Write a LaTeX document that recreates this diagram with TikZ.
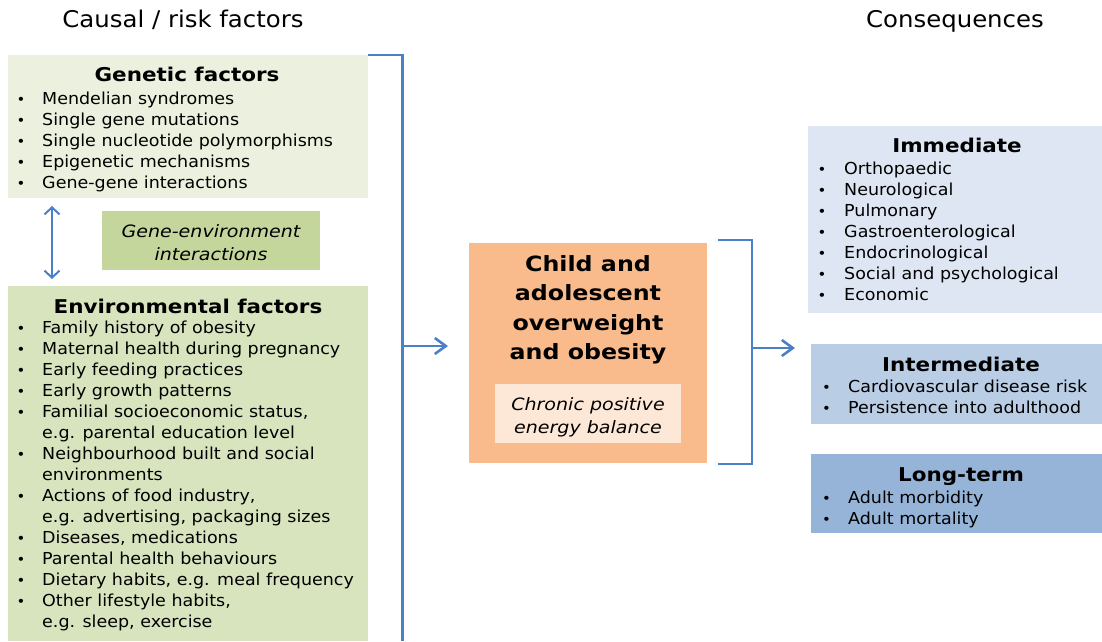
\documentclass[tikz,border=0pt]{standalone}
\usepackage{fontspec}
\setmainfont{DejaVu Sans}
\newfontfamily\frm{DejaVu Sans}[FakeStretch=1.06]
\newfontfamily\fbd{DejaVu Sans}[FakeStretch=1.13]
\newfontfamily\fitl{DejaVu Sans}[FakeStretch=1.12]
\usetikzlibrary{arrows.meta}
\definecolor{genbg}{RGB}{235,241,222}
\definecolor{envbg}{RGB}{216,228,190}
\definecolor{gebg}{RGB}{196,214,156}
\definecolor{orbg}{RGB}{249,187,139}
\definecolor{orin}{RGB}{253,232,216}
\definecolor{imbg}{RGB}{221,230,242}
\definecolor{intbg}{RGB}{185,205,229}
\definecolor{ltbg}{RGB}{150,180,216}
\definecolor{brk}{RGB}{76,128,198}
\tikzset{
  item/.style={font=\frm\fontsize{16.5}{21}\selectfont, inner sep=0pt, anchor=base west},
  bul/.style={font=\frm\fontsize{14}{21}\selectfont, inner sep=0pt, anchor=base},
  ttl/.style={font=\fbd\fontsize{19}{21}\selectfont\bfseries, inner sep=0pt, anchor=base},
  ctl/.style={font=\fbd\fontsize{21}{29}\selectfont\bfseries, inner sep=0pt, anchor=base},
  itl/.style={font=\fitl\fontsize{17}{23}\selectfont\itshape, inner sep=0pt, anchor=base},
  hdr/.style={font=\frm\fontsize{23}{26}\selectfont, inner sep=0pt, anchor=base},
  brack/.style={draw=brk, line width=2.6pt},
  arr/.style={draw=brk, line width=2.6pt, -{Straight Barb[length=11pt,width=16pt,line width=2.6pt]}},
}
\begin{document}
\begin{tikzpicture}[x=1pt,y=-1pt]
\useasboundingbox (0,0) rectangle (1102,641);
\fill[white] (0,0) rectangle (1102,641);
% headers
\node[hdr] (h1) at (183,27) {Causal / risk factors};
\node[hdr] (h2) at (955,27) {Consequences};
% boxes
\fill[genbg] (8,55) rectangle (368,198);
\fill[envbg] (8,286) rectangle (368,641);
\fill[gebg] (102,211) rectangle (320,270);
\fill[orbg] (469,243) rectangle (707,463);
\fill[orin] (495,384) rectangle (681,443);
\fill[imbg] (808,126) rectangle (1102,313);
\fill[intbg] (811,344) rectangle (1102,424);
\fill[ltbg] (811,454) rectangle (1102,533);
% genetic
\node[ttl] (gt) at (187,81) {Genetic factors};
\foreach \t [count=\i] in {Mendelian syndromes, Single gene mutations, Single nucleotide polymorphisms, Epigenetic mechanisms, Gene-gene interactions}{
  \node[item] (g\i) at (42,{104+21*(\i-1)}) {\t};
  \node[bul] (gb\i) at (21,{104+21*(\i-1)}) {•};
}
% gene-env
\node[itl] (ge1) at (211,237) {Gene-environment};
\node[itl] (ge2) at (211,260) {interactions};
\coordinate (da) at (52,206);
\coordinate (db) at (52,279);
\draw[draw=brk, line width=2pt, {Straight Barb[length=7pt,width=15pt,line width=2pt]}-{Straight Barb[length=7pt,width=15pt,line width=2pt]}] (da) -- (db);
% environmental
\node[ttl] (et) at (188,313) {Environmental factors};
\foreach \b/\t [count=\i] in {1/Family history of obesity, 1/Maternal health during pregnancy, 1/Early feeding practices, 1/Early growth patterns, 1/{Familial socioeconomic status,}, 0/{e.g. parental education level}, 1/Neighbourhood built and social, 0/environments, 1/{Actions of food industry,}, 0/{e.g. advertising, packaging sizes}, 1/{Diseases, medications}, 1/Parental health behaviours, 1/{Dietary habits, e.g. meal frequency}, 1/{Other lifestyle habits,}, 0/{e.g. sleep, exercise}}{
  \node[item] (e\i) at (42,{333+21*(\i-1)}) {\t};
  \ifnum\b=1 \node[bul] (eb\i) at (21,{333+21*(\i-1)}) {•};\fi
}
% left bracket
\coordinate (lb1) at (368,55);
\coordinate (lb2) at (402.5,55);
\coordinate (lb3) at (402.5,641);
\coordinate (lbm) at (402.5,346);
\coordinate (lba) at (448,346);
\draw[brack] (lb1) -- (lb2) -- (lb3);
\draw[arr] (lbm) -- (lba);
% center
\node[ctl] (c1) at (588,271) {Child and};
\node[ctl] (c2) at (588,300.5) {adolescent};
\node[ctl] (c3) at (588,330) {overweight};
\node[ctl] (c4) at (588,359.5) {and obesity};
\node[itl] (ci1) at (588,410) {Chronic positive};
\node[itl] (ci2) at (588,433) {energy balance};
% right bracket
\coordinate (rb1) at (718,240);
\coordinate (rb2) at (752,240);
\coordinate (rb3) at (752,464);
\coordinate (rb4) at (718,464);
\coordinate (rbm) at (752,348);
\coordinate (rba) at (795,348);
\draw[brack] (rb1) -- (rb2) -- (rb3) -- (rb4);
\draw[arr] (rbm) -- (rba);
% immediate
\node[ttl] (it) at (957,152) {Immediate};
\foreach \t [count=\i] in {Orthopaedic, Neurological, Pulmonary, Gastroenterological, Endocrinological, Social and psychological, Economic}{
  \node[item] (i\i) at (844,{174+21*(\i-1)}) {\t};
  \node[bul] (ib\i) at (822,{174+21*(\i-1)}) {•};
}
% intermediate
\node[ttl] (nt) at (961,371) {Intermediate};
\foreach \t [count=\i] in {Cardiovascular disease risk, Persistence into adulthood}{
  \node[item] (n\i) at (848,{392+21*(\i-1)}) {\t};
  \node[bul] (nb\i) at (826.5,{392+21*(\i-1)}) {•};
}
% long-term
\node[ttl] (lt) at (961,481) {Long-term};
\foreach \t [count=\i] in {Adult morbidity, Adult mortality}{
  \node[item] (l\i) at (848,{503+21*(\i-1)}) {\t};
  \node[bul] (lb\i) at (826.5,{503+21*(\i-1)}) {•};
}
\end{tikzpicture}
\end{document}
